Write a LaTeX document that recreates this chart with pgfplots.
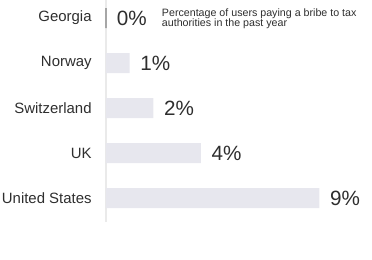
\documentclass[border=0pt]{standalone}
\usepackage{pgfplots}
\pgfplotsset{compat=1.18}
\usepackage{fontspec}
\setmainfont{Liberation Sans}
\definecolor{barc}{HTML}{E7E7EE}
\definecolor{txt}{HTML}{2E2E2E}
\definecolor{axl}{HTML}{EAEAEA}
\begin{document}
\begin{tikzpicture}
\path[use as bounding box] (-79.5pt,-28.5pt) rectangle (199.5pt,166.5pt);
\begin{axis}[
  scale only axis,
  width=199.5pt, height=166.5pt,
  xmin=0, xmax=11.22,
  ymin=-0.4, ymax=4.53,
  y dir=reverse,
  axis x line=none,
  axis y line=left,
  y axis line style={draw=axl, line width=0.8pt, -},
  ytick={0,1,2,3,4},
  yticklabels={Georgia,Norway,Switzerland,UK,United States},
  ytick style={draw=none},
  yticklabel style={font=\fontsize{11.2pt}{14pt}\selectfont, text=txt, xshift=-3pt},
  xbar, bar width=15pt, bar shift=0pt,
  /pgf/number format/assume math mode=true,
  nodes near coords={\pgfmathprintnumber{\pgfplotspointmeta}\%},
  point meta=x,
  every node near coord/.append style={anchor=west, xshift=4.5pt, font=\fontsize{15.5pt}{18pt}\selectfont, text=txt},
  clip=false,
]
\addplot[fill=barc, draw=gray!70, line width=0.8pt] coordinates {(0,0)};
\addplot[fill=barc, draw=none] coordinates {(1,1) (2,2) (4,3) (9,4)};
\node[anchor=north west, align=left, text=txt, inner sep=0pt,
  font=\fontsize{8pt}{7.6pt}\selectfont] at (axis cs:2.35,-0.22)
  {Percentage of users paying a bribe to tax\\authorities in the past year};
\end{axis}
\end{tikzpicture}
\end{document}
